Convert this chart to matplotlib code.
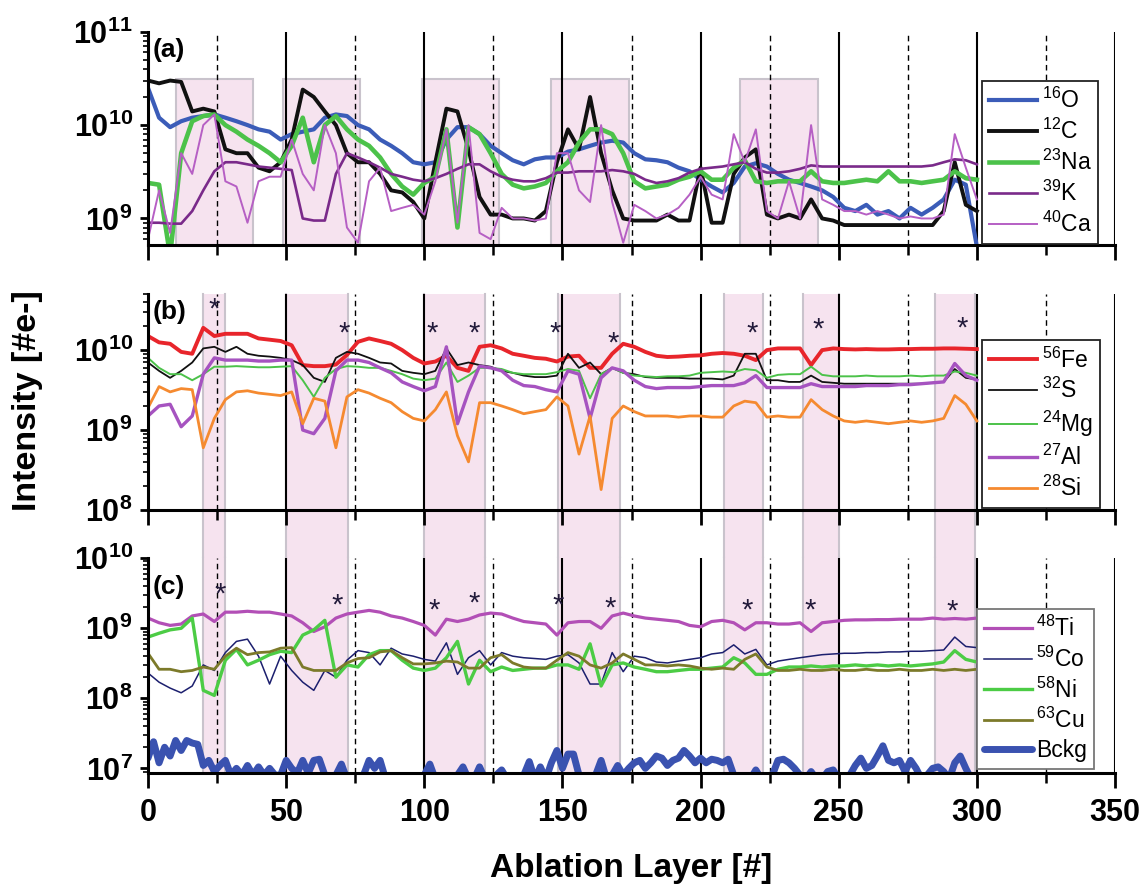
#!/usr/bin/env python
"""Depth profiles of an ablated grain: three stacked log-scale panels."""

import matplotlib

matplotlib.use("Agg")
import matplotlib.pyplot as plt  # noqa: E402
import numpy as np  # noqa: E402
from matplotlib.ticker import LogLocator, NullFormatter  # noqa: E402

plt.rcParams["font.family"] = "Liberation Sans"
plt.rcParams["mathtext.fontset"] = "custom"
plt.rcParams["mathtext.rm"] = "Liberation Sans"
plt.rcParams["mathtext.it"] = "Liberation Sans:italic"
plt.rcParams["mathtext.bf"] = "Liberation Sans:bold"
plt.rcParams["mathtext.default"] = "regular"

# ablation layer of each sample (every 4th layer; background every 2nd)
LAYERS = np.arange(0, 301, 4)
BCKG_LAYERS = np.arange(0, 301, 2)

# (a) intensities, units of 1e9 e-
O16 = [25, 12, 9.5, 11, 12, 12.5, 13, 12, 11, 10, 9, 8.5, 7, 8, 8.5, 9, 12, 13, 12.5, 10,
       9, 7, 6, 5, 4, 3.8, 4, 7, 9.5, 9.5, 8, 6, 5, 4.2, 3.8, 4.3, 4.5, 4.5,
       5.2, 5.5, 6, 6.5, 6.8, 6.5, 5, 4.3, 4.2, 4, 3.5, 3.2, 2.6, 2.2, 1.9, 2.4, 3.6, 3.9, 3.6, 3,
       2.6, 2.4, 2.2, 2.0, 1.7, 1.3, 1.2, 1.4, 1.1, 1.2, 1.0, 1.3, 1.1, 1.3, 1.6, 2.6, 2.3, 0.5]
C12 = [30, 28, 30, 29, 14, 15, 14, 5.5, 5, 5, 3.5, 3.2, 4, 7, 24, 20, 14, 10, 5, 4,
       4, 3, 2, 1.9, 1.5, 1.0, 4, 15, 14, 5.5, 1.7, 1.1, 1.1, 1.0, 1.0, 0.95, 1.2, 4,
       9, 5.5, 20, 5, 2, 1.0, 0.95, 0.95, 0.95, 1.1, 0.95, 0.95, 3.5, 0.9, 0.9, 3, 4.5, 5.5, 1.1, 1.0,
       1.1, 1.0, 1.6, 1.0, 0.95, 0.85, 0.85, 0.85, 0.85, 0.85, 0.85, 0.85, 0.85, 0.85, 1.2, 4, 1.4, 1.2]
NA23 = [2.4, 2.3, 0.4, 5, 11, 12.5, 13, 10, 8.5, 7, 6, 5, 4, 6, 12, 4, 10, 12.5, 9, 7,
        6, 4.5, 3, 2.2, 1.8, 2.4, 2.8, 9, 0.8, 9.5, 8, 5, 3, 2.3, 2.1, 2.2, 2.4, 3.2,
        4, 6.5, 9, 9, 8, 5, 2.5, 2.1, 2.2, 2.3, 2.6, 2.8, 3.2, 2.6, 2.6, 3.5, 4.2, 2.5, 2.4, 2.5,
        2.5, 2.5, 3.2, 2.5, 2.4, 2.4, 2.5, 2.6, 2.5, 3.2, 2.5, 2.5, 2.4, 2.5, 2.6, 3.2, 2.7, 2.6]
K39 = [0.9, 0.9, 0.88, 0.88, 1.2, 2.0, 3.2, 4.0, 4.0, 3.8, 3.6, 3.5, 3.4, 3.3, 1.0, 0.95, 0.95, 3.0, 5.0, 4.5,
       4.0, 3.5, 3.0, 2.8, 2.6, 2.5, 2.7, 3.0, 3.4, 3.8, 3.8, 3.2, 2.8, 2.6, 2.5, 2.5, 2.7, 3.1,
       3.1, 3.2, 3.2, 3.2, 3.3, 3.2, 3.0, 2.6, 2.4, 2.5, 2.7, 3.1, 3.4, 3.5, 3.6, 3.8, 4.0, 3.4, 3.1, 3.1,
       3.2, 3.4, 3.7, 3.6, 3.6, 3.6, 3.6, 3.6, 3.6, 3.6, 3.6, 3.6, 3.6, 3.7, 4.0, 4.3, 4.2, 3.8]
CA40 = [0.6, 2.0, 0.7, 5, 3, 10, 13, 2.5, 2.2, 0.9, 2.5, 2.8, 2.8, 7, 3, 2, 10, 5, 0.8, 0.55,
        2.5, 3.5, 1.2, 1.3, 1.4, 1.1, 2.5, 9, 0.9, 10, 0.7, 0.6, 1.3, 1.0, 1.0, 0.95, 1.0, 5,
        5, 2, 1.5, 10, 1.5, 0.55, 1.4, 1.2, 1.0, 1.1, 1.3, 1.8, 2.8, 1.8, 1.6, 8, 4, 9, 1.2, 1.0,
        2.5, 1.0, 10, 1.6, 1.4, 1.2, 1.2, 1.1, 1.2, 1.1, 1.0, 1.05, 1.0, 1.0, 1.1, 8, 3.5, 1.6]

# (b) intensities, units of 1e9 e-
FE56 = [15, 12.5, 12, 9.5, 9, 19, 15, 16, 16, 16, 14, 13.5, 13, 11.5, 6.5, 6.3, 6.3, 6.6, 8.7, 12.7,
        14, 13, 12, 10, 8, 6.8, 7.2, 8.5, 6, 5.5, 11, 11.5, 10.5, 9, 8.5, 8, 7.8, 7.2,
        8.3, 8.5, 6, 6, 9, 12, 11, 9.5, 8.5, 8.2, 8.3, 8.5, 8.6, 9, 9.2, 9, 8.5, 7.5, 10, 10.5,
        10.5, 10.5, 6.5, 10, 10.5, 10.3, 10.2, 10.3, 10.2, 10.2, 10.3, 10.3, 10.4, 10.4, 10.5, 10.5, 10.4, 10.3]
S32 = [7, 5.5, 4.5, 5.5, 7, 10.5, 11, 9.5, 11, 9, 8.5, 8.3, 8, 7.5, 6.5, 4.5, 4, 8, 9.5, 9,
       8, 7, 6.8, 5.5, 5.2, 5, 5.5, 10.5, 6.5, 7, 6.5, 6.2, 5.5, 5.2, 4.8, 4.6, 4.6, 4.8,
       9, 6, 7, 5, 6, 5.2, 5, 4.6, 4.5, 4.5, 4.5, 4.4, 4.4, 4.4, 4.3, 4.8, 9, 9, 4.2, 4.2,
       4.0, 4.0, 4.8, 4.0, 3.9, 3.8, 3.8, 3.8, 3.8, 3.8, 3.8, 3.8, 3.8, 3.9, 4.0, 5.8, 4.5, 4.3]
MG24 = [8, 6, 5, 5, 4.2, 5, 6.2, 6.2, 6.3, 6.2, 6.1, 6.1, 6.2, 6.3, 4.2, 2.6, 4.5, 5.8, 6.3, 6.2,
        6, 6, 5.5, 5, 4.4, 4.2, 4.4, 7, 4, 4.8, 6, 6, 5.8, 5.2, 5, 5, 5, 5.3,
        5.8, 5.5, 2.5, 5, 6, 5.2, 4.8, 4.7, 4.6, 4.7, 4.7, 4.8, 5.2, 5.3, 5.4, 5.3, 5.8, 5.6, 4.5, 4.9,
        5, 5, 6.2, 4.9, 4.7, 4.7, 4.7, 4.8, 4.7, 4.7, 4.7, 4.8, 4.7, 4.8, 4.8, 5.4, 5.2, 4.8]
AL27 = [1.5, 2, 2.1, 1.1, 1.5, 5, 8, 7.5, 7.5, 7.5, 7.3, 7.3, 7.5, 7.5, 1.0, 0.9, 1.4, 5.5, 7.5, 7.5,
        7, 6, 5.2, 4, 3.5, 3.1, 3.5, 11, 1.2, 3, 6.3, 6, 5.5, 4.2, 3.6, 3.5, 3.2, 3,
        5.5, 5, 1.4, 4.5, 6, 5.5, 4.2, 3.5, 3.3, 3.4, 3.4, 3.4, 3.5, 3.6, 3.6, 3.6, 3.9, 4.8, 3.4, 3.4,
        3.4, 3.4, 3.8, 3.5, 3.5, 3.5, 3.5, 3.6, 3.6, 3.6, 3.7, 3.7, 3.8, 3.9, 4.0, 6.8, 4.8, 4.2]
SI28 = [1.9, 3.5, 3, 3.3, 3.2, 0.6, 1.4, 2.4, 3, 3.1, 2.9, 2.8, 2.7, 3, 1.2, 2.5, 2.3, 0.6, 2.6, 3.2,
        2.9, 2.5, 2.2, 1.7, 1.4, 1.3, 1.8, 3, 0.85, 0.4, 2.2, 2.2, 2.0, 1.8, 1.6, 1.7, 1.8, 2.6,
        2.0, 0.5, 1.5, 0.18, 1.4, 2.0, 1.7, 1.5, 1.5, 1.5, 1.45, 1.5, 1.5, 1.45, 1.45, 2.0, 2.3, 2.2, 1.45, 1.5,
        1.45, 1.45, 2.4, 1.8, 1.5, 1.3, 1.25, 1.3, 1.25, 1.2, 1.25, 1.3, 1.25, 1.3, 1.4, 2.7, 2.1, 1.3]

# (c) intensities, units of 1e8 e- (background in 1e7 e-)
TI48 = [14, 12, 11, 11.5, 15, 16, 12.5, 17, 17, 17.5, 17, 17, 16, 15, 12, 9, 10.5, 14, 16, 17,
        18, 17, 15, 14, 12.5, 11, 8, 13.5, 12.5, 13.5, 15.5, 16.5, 16, 14, 12.5, 12, 11.5, 8,
        12, 12.5, 12.5, 10, 15, 16.5, 15, 14, 13.5, 13, 12.5, 11, 10.5, 12.5, 13, 12, 9.5, 12, 12, 11.5,
        11.5, 12, 9, 12, 12.5, 13, 13.2, 13.2, 13.3, 13.3, 13.5, 13.5, 13.5, 14, 13.5, 13.8, 13.5, 14]
CO59 = [2.3, 1.7, 1.4, 1.2, 1.5, 3, 2.5, 4.5, 6.5, 7, 4, 1.6, 4, 2.5, 1.7, 1.3, 2.5, 2, 3.5, 4.8,
        4.5, 3, 5.2, 4.3, 4, 3.6, 3.4, 6.2, 2.2, 3.8, 4.8, 3, 4.5, 4, 3.8, 3.7, 3.6, 4,
        4.2, 3.2, 1.6, 1.6, 4.5, 2.4, 4.0, 3.8, 3.3, 3.2, 3.4, 3.6, 3.8, 4.3, 4.5, 5.8, 4.3, 5.0, 3.0, 3.4,
        3.6, 3.8, 4.0, 4.2, 4.3, 4.4, 4.4, 4.5, 4.5, 4.6, 4.6, 4.7, 4.7, 4.8, 4.9, 7.5, 5.5, 5.3]
NI58 = [7.5, 8.5, 9.5, 10, 14, 1.3, 1.1, 3.5, 5, 3, 3.5, 4.2, 4.7, 4.5, 8, 9.5, 13, 2.0, 3, 2.8,
        4.2, 4.8, 4.8, 3.5, 2.7, 2.5, 2.7, 3.8, 6.5, 1.6, 3.5, 2.4, 2.8, 2.5, 2.6, 2.7, 2.7, 3,
        3, 2.6, 6, 1.5, 3, 3.2, 2.8, 2.6, 2.4, 2.4, 2.5, 2.6, 2.6, 2.7, 2.8, 3.8, 3.2, 2.2, 2.2, 2.6,
        2.8, 2.8, 2.9, 2.8, 2.9, 2.9, 3.0, 2.9, 3.0, 2.9, 3.0, 2.9, 3.0, 3.1, 3.3, 4.8, 3.6, 3.3]
CU63 = [4.4, 2.6, 2.6, 2.4, 2.5, 2.8, 2.6, 4.0, 5.2, 4.2, 4.5, 4.6, 5.2, 5.3, 2.8, 2.5, 2.5, 2.5, 3.2, 3.7,
        3.8, 4.6, 4.8, 3.8, 3.1, 3.1, 3.2, 3.4, 3.3, 2.7, 2.7, 3.8, 4.2, 3.2, 2.8, 2.7, 2.7, 3.5,
        4.5, 4.0, 3.0, 2.7, 3.2, 4.3, 3.6, 3.0, 3.0, 2.9, 3.0, 2.9, 2.7, 2.6, 2.7, 2.6, 3.6, 4.3, 2.8, 2.5,
        2.5, 2.6, 2.5, 2.5, 2.6, 2.5, 2.5, 2.6, 2.5, 2.5, 2.6, 2.5, 2.5, 2.6, 2.5, 2.6, 2.5, 2.6]
BCKG = [1.4, 2.4, 1.2, 2.0, 1.5, 2.5, 1.8, 2.5, 2.3, 2.2,
        1.1, 1.3, 0.9, 1.1, 1.3, 0.8, 1.0, 0.8, 1.1, 0.8,
        1.05, 0.8, 1.0, 0.8, 0.8, 1.3, 1.0, 0.85, 1.3, 0.85,
        1.3, 1.35, 0.8, 0.7, 0.8, 1.15, 0.7, 0.7, 0.7, 0.8,
        1.3, 1.0, 1.3, 0.7, 0.7, 0.7, 0.7, 0.7, 0.7, 0.7,
        0.8, 1.15, 0.7, 0.7, 0.7, 0.7, 0.8, 1.05, 0.7, 0.7,
        1.05, 0.7, 0.7, 0.8, 0.95, 0.7, 0.7, 0.7, 0.8, 1.25,
        0.7, 1.05, 0.7, 1.2, 1.8, 1.0, 1.6, 1.6, 0.8, 0.7,
        0.7, 0.8, 1.3, 0.7, 0.8, 1.1, 0.8, 1.0, 1.2, 1.3,
        1.0, 1.2, 1.5, 1.4, 1.1, 1.3, 1.4, 1.8, 1.5, 1.2,
        1.4, 1.2, 1.35, 1.3, 1.2, 1.35, 0.8, 0.7, 0.7, 0.7,
        0.95, 0.7, 0.7, 0.8, 1.3, 1.35, 1.2, 1.0, 0.8, 0.7,
        0.9, 0.7, 0.7, 0.9, 0.95, 0.7, 0.7, 0.8, 1.1, 1.4,
        1.0, 1.1, 1.5, 2.1, 1.3, 1.2, 1.3, 0.9, 1.3, 1.0,
        0.7, 0.8, 1.0, 1.05, 0.9, 0.7, 1.2, 1.5, 1.0, 0.7,
        0.7]

# grain-rich layer intervals
BANDS_A = [(10, 38), (48.7, 76.7), (99, 127), (145.7, 174), (214.3, 242.5)]
BANDS_BC = [(20, 28), (50, 72.5), (100, 122), (148.5, 171), (208.6, 222.7), (237, 250), (285, 299.3)]

# layers flagged with an asterisk
STAR_B_X = [23.9, 71.0, 102.9, 118.2, 147.3, 168.4, 218.5, 242.6, 294.5]
STAR_B_Y = [3.8e10, 1.87e10, 1.9e10, 1.9e10, 1.9e10, 1.4e10, 1.9e10, 2.1e10, 2.2e10]
STAR_C_X = [26.1, 68.3, 103.5, 118.0, 148.5, 167.2, 216.9, 239.6, 291.1]
STAR_C_Y = [3.6e9, 2.5e9, 2.15e9, 2.7e9, 2.5e9, 2.27e9, 2.15e9, 2.15e9, 2.1e9]

for series in (O16, C12, NA23, K39, CA40, FE56, S32, MG24, AL27, SI28, TI48, CO59, NI58, CU63):
    assert len(series) == len(LAYERS), len(series)
assert len(BCKG) == len(BCKG_LAYERS)

PINK = "#f6e3ef"
PINK_EDGE = "#c9c3cc"


def frame(ax, ylim, decades, show_x):
    ax.set_yscale("log")
    ax.set_xlim(0, 350)
    ax.set_ylim(*ylim)
    for side in ("top", "right"):
        ax.spines[side].set_visible(False)
    for side in ("left", "bottom"):
        ax.spines[side].set_linewidth(2.2)
        ax.spines[side].set_zorder(5)
    ax.set_xticks(range(0, 351, 50))
    ax.set_xticks(range(25, 351, 50), minor=True)
    ax.set_yticks([10.0 ** d for d in decades])
    ax.set_yticklabels([rf"$\mathbf{{10^{{{d}}}}}$" for d in decades], fontsize=22)
    ax.yaxis.set_minor_locator(LogLocator(base=10, subs=np.arange(2, 10), numticks=30))
    ax.yaxis.set_minor_formatter(NullFormatter())
    ax.tick_params(axis="x", which="major", length=11, width=2, direction="out", pad=7)
    ax.tick_params(axis="x", which="minor", length=7, width=1.8, direction="out")
    ax.tick_params(axis="y", which="major", length=6, width=2, pad=5)
    ax.tick_params(axis="y", which="minor", length=3.5, width=1.2)
    if show_x:
        ax.set_xticklabels([str(v) for v in range(0, 351, 50)], fontsize=22, fontweight="bold")
    else:
        ax.tick_params(axis="x", labelbottom=False)
    for v in range(50, 351, 50):
        ax.axvline(v, color="black", lw=1.5, zorder=1)
    for v in range(25, 326, 50):
        ax.axvline(v, color="black", lw=1.0, ls=(0, (4, 3)), zorder=1)


def shade(ax, bands, bottom=0.0, top=1.0, boxed=False):
    for x0, x1 in bands:
        ax.axvspan(x0, x1, ymin=bottom, ymax=top, facecolor=PINK,
                   edgecolor=PINK_EDGE if boxed else "none", lw=1.5, zorder=0.5, clip_on=False)
        if not boxed:
            for xe in (x0, x1):
                ax.axvline(xe, ymin=bottom, ymax=top, color=PINK_EDGE, lw=1.5, zorder=0.6, clip_on=False)


def key(ax, x, y, edge):
    leg = ax.legend(loc="lower left", bbox_to_anchor=(x, y), fontsize=16.5, frameon=True,
                    fancybox=False, edgecolor=edge, framealpha=1, handlelength=2.1,
                    handletextpad=0.2, labelspacing=0.25, borderpad=0.3, borderaxespad=0)
    leg.get_frame().set_linewidth(1.3)
    leg.set_zorder(10)


def stars(ax, xs, ys):
    for x, y in zip(xs, ys):
        ax.annotate("*", (x, y), xytext=(0, -4), textcoords="offset points", ha="center",
                    va="center", fontsize=21, color="#221a3a", zorder=6)


fig = plt.figure(figsize=(11.43, 8.86), dpi=100)
LEFT, WIDTH = 0.1295, 0.846
ax_a = fig.add_axes([LEFT, 0.7235, WIDTH, 0.2407])
ax_b = fig.add_axes([LEFT, 0.4244, WIDTH, 0.2435])
ax_c = fig.add_axes([LEFT, 0.1272, WIDTH, 0.2427])

# (a) light elements
ylim_a = (5.2e8, 1e11)
frame(ax_a, ylim_a, [9, 10, 11], False)
band_top = (np.log10(3.1e10) - np.log10(ylim_a[0])) / (11 - np.log10(ylim_a[0]))
shade(ax_a, BANDS_A, top=band_top, boxed=True)
xa = LAYERS
ax_a.plot(xa, np.array(O16) * 1e9, color="#3b5cb8", lw=3.0, label=r"$^{16}$O", zorder=2)
ax_a.plot(xa, np.array(C12) * 1e9, color="#111111", lw=2.8, label=r"$^{12}$C", zorder=2.1)
ax_a.plot(xa, np.array(NA23) * 1e9, color="#4cc24a", lw=3.3, label=r"$^{23}$Na", zorder=2.2)
ax_a.plot(xa, np.array(K39) * 1e9, color="#7a2a8a", lw=1.9, label=r"$^{39}$K", zorder=2.3)
ax_a.plot(xa, np.array(CA40) * 1e9, color="#b65fc4", lw=1.4, label=r"$^{40}$Ca", zorder=2.4)
key(ax_a, 0.8625, 0.005, "#222222")
ax_a.text(0.005, 0.914, "(a)", transform=ax_a.transAxes, fontsize=19, fontweight="bold",
          ha="left", va="center")

# (b) rock-forming elements
frame(ax_b, (1e8, 5e10), [8, 9, 10], False)
shade(ax_b, BANDS_BC, bottom=-0.2238)
ax_b.plot(xa, np.array(FE56) * 1e9, color="#e8252b", lw=2.8, label=r"$^{56}$Fe", zorder=2)
ax_b.plot(xa, np.array(S32) * 1e9, color="#111111", lw=1.3, label=r"$^{32}$S", zorder=2.1)
ax_b.plot(xa, np.array(MG24) * 1e9, color="#4cc24a", lw=1.4, label=r"$^{24}$Mg", zorder=2.2)
ax_b.plot(xa, np.array(AL27) * 1e9, color="#a653c0", lw=2.4, label=r"$^{27}$Al", zorder=2.3)
ax_b.plot(xa, np.array(SI28) * 1e9, color="#f58a30", lw=2.0, label=r"$^{28}$Si", zorder=2.4)
key(ax_b, 0.8625, 0.009, "#222222")
stars(ax_b, STAR_B_X, STAR_B_Y)
ax_b.text(0.005, 0.918, "(b)", transform=ax_b.transAxes, fontsize=19, fontweight="bold",
          ha="left", va="center")

# (c) trace metals and background
frame(ax_c, (8.5e6, 1e10), [7, 8, 9, 10], True)
shade(ax_c, BANDS_BC)
ax_c.plot(xa, np.array(TI48) * 1e8, color="#b24fb6", lw=2.3, label=r"$^{48}$Ti", zorder=2)
ax_c.plot(xa, np.array(CO59) * 1e8, color="#1c1f6e", lw=1.1, label=r"$^{59}$Co", zorder=2.1)
ax_c.plot(xa, np.array(NI58) * 1e8, color="#4ccc45", lw=2.4, label=r"$^{58}$Ni", zorder=2.2)
ax_c.plot(xa, np.array(CU63) * 1e8, color="#7c7a2a", lw=2.0, label=r"$^{63}$Cu", zorder=2.3)
ax_c.plot(BCKG_LAYERS, np.array(BCKG) * 1e7, color="#3a52b0", lw=5, label="Bckg",
          solid_joinstyle="round", solid_capstyle="round", zorder=2.4)
key(ax_c, 0.857, 0.02, "#777777")
stars(ax_c, STAR_C_X, STAR_C_Y)
ax_c.text(0.005, 0.867, "(c)", transform=ax_c.transAxes, fontsize=19, fontweight="bold",
          ha="left", va="center")

fig.text(0.024, 0.548, "Intensity [#e-]", rotation=90, fontsize=24.5, fontweight="bold",
         ha="center", va="center")
fig.text(0.5525, 0.0203, "Ablation Layer [#]", fontsize=24, fontweight="bold",
         ha="center", va="center")

fig.savefig("out.png", dpi=100)
